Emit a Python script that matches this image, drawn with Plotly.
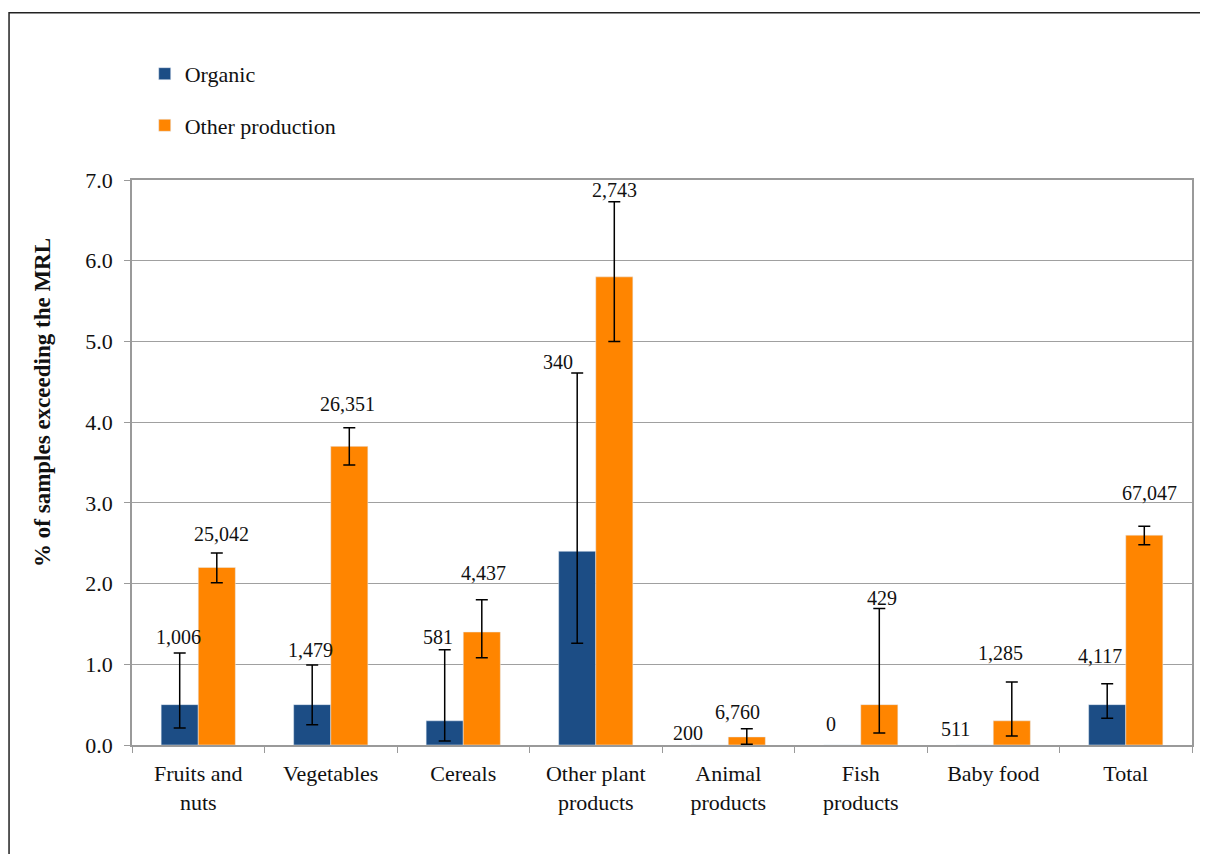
import numpy as np
import plotly.graph_objects as go

categories = ["Fruits and<br>nuts", "Vegetables", "Cereals", "Other plant<br>products",
              "Animal<br>products", "Fish<br>products", "Baby food", "Total"]

organic = [0.5, 0.5, 0.3, 2.4, 0.0, 0.0, 0.0, 0.5]
organic_lo = [0.21, 0.25, 0.05, 1.26, None, None, None, 0.33]
organic_hi = [1.14, 0.99, 1.18, 4.61, None, None, None, 0.76]
organic_n = ["1,006", "1,479", "581", "340", "200", "0", "511", "4,117"]

other = [2.2, 3.7, 1.4, 5.8, 0.1, 0.5, 0.3, 2.6]
other_lo = [2.01, 3.47, 1.08, 5.0, 0.01, 0.15, 0.11, 2.48]
other_hi = [2.38, 3.93, 1.80, 6.73, 0.20, 1.69, 0.78, 2.71]
other_n = ["25,042", "26,351", "4,437", "2,743", "6,760", "429", "1,285", "67,047"]

SERIF = "Liberation Serif"
BLUE = "#1c4d85"
ORANGE = "#ff8500"


# NaN (not None) so plotly skips the error bar completely
def err_up(v, hi):
    return np.array([np.nan if h is None else h - x for x, h in zip(v, hi)])


def err_down(v, lo):
    return np.array([np.nan if l is None else x - l for x, l in zip(v, lo)])


fig = go.Figure()
fig.add_trace(go.Bar(
    x=categories, y=organic, name="Organic", marker_color=BLUE, legendgroup="a",
    error_y=dict(type="data", symmetric=False, array=err_up(organic, organic_hi),
                 arrayminus=err_down(organic, organic_lo), color="black", thickness=1.5, width=6)))
fig.add_trace(go.Bar(
    x=categories, y=other, name="Other production", marker_color=ORANGE, legendgroup="b",
    error_y=dict(type="data", symmetric=False, array=err_up(other, other_hi),
                 arrayminus=err_down(other, other_lo), color="black", thickness=1.5, width=6)))

# sample counts above the error bars (offsets in pixels, tuned by eye)
org_dx = [-20, -20, -25, -38, -40, -30, -38, -26]
org_dy = [16, 15, 13, 11, 12, 21, 16, 28]
oth_dx = [23, 17, 20, 19, 9, 21, 7, 24]
oth_dy = [19, 24, 27, 12, 17, 11, 29, 33]
for i, c in enumerate(categories):
    y0 = organic_hi[i] if organic_hi[i] is not None else organic[i]
    fig.add_annotation(x=c, y=y0, text=organic_n[i], showarrow=False, xshift=org_dx[i],
                       yshift=org_dy[i], font=dict(family=SERIF, size=20, color="#111"))
    fig.add_annotation(x=c, y=other_hi[i], text=other_n[i], showarrow=False, xshift=oth_dx[i],
                       yshift=oth_dy[i], font=dict(family=SERIF, size=20, color="#111"))

# y title as annotation (sits above the axis middle in the original)
fig.add_annotation(xref="paper", yref="paper", x=-0.085, y=0.607, xanchor="center", yanchor="middle",
                   textangle=-90, text="<b>% of samples exceeding the MRL</b>", showarrow=False,
                   font=dict(family=SERIF, size=23, color="#111"))

# outer frame
fig.add_shape(type="rect", xref="paper", yref="paper", x0=-0.116, x1=1.03, y0=-0.25, y1=1.296,
              line=dict(color="#222", width=1.5), fillcolor="rgba(0,0,0,0)", layer="below")

fig.update_layout(
    width=1200, height=846,
    margin=dict(l=124, r=16, t=172, b=109),
    paper_bgcolor="white", plot_bgcolor="white",
    barmode="group", bargap=0.44, bargroupgap=0,
    font=dict(family=SERIF, size=22, color="#111"),
    legend=dict(x=0.012, y=1.225, xanchor="left", yanchor="top", tracegroupgap=20,
                itemwidth=30, font=dict(family=SERIF, size=22), bgcolor="rgba(0,0,0,0)"),
    xaxis=dict(showline=True, linecolor="#9a9a9a", linewidth=1.5, mirror=True,
               ticks="outside", tickson="boundaries", ticklen=6, tickcolor="#9a9a9a",
               ticklabelstandoff=8, tickfont=dict(family=SERIF, size=22)),
    yaxis=dict(range=[0, 7], dtick=1, tickformat=".1f", showgrid=True, gridcolor="#a0a0a0",
               gridwidth=1.2, showline=True, linecolor="#9a9a9a", linewidth=1.5, mirror=True,
               ticks="outside", ticklen=6, tickcolor="#9a9a9a", ticklabelstandoff=7,
               tickfont=dict(family=SERIF, size=22)),
)

fig.write_html("out.html")
